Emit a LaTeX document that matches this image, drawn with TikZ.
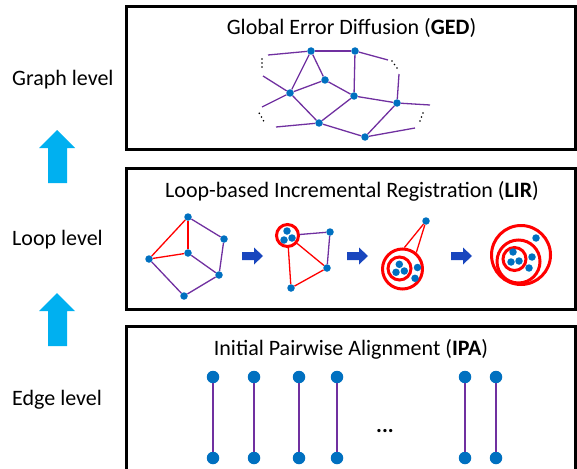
\documentclass[tikz,border=0pt]{standalone}
\usepackage{fontspec}
\setmainfont{Carlito}
\definecolor{nblue}{HTML}{0070C0}
\definecolor{epurple}{HTML}{7030A0}
\definecolor{ered}{HTML}{FF0000}
\definecolor{acyan}{HTML}{00B0F0}
\definecolor{adark}{RGB}{25,70,190}
\begin{document}
\begin{tikzpicture}[x=1pt,y=-1pt,
  dot/.style={circle,fill=nblue,inner sep=0pt,minimum size=7.5pt},
  bigdot/.style={circle,fill=nblue,inner sep=0pt,minimum size=12.5pt},
  tiny/.style={circle,fill=black,inner sep=0pt,minimum size=1.8pt},
  pe/.style={draw=epurple,line width=1.3pt},
  re/.style={draw=ered,line width=1.3pt},
  ring/.style={circle,draw=ered,line width=3pt,inner sep=0pt},
  frame/.style={draw=black,line width=3pt},
  lbl/.style={font=\fontsize{22}{26}\selectfont,inner sep=0pt},
  uparrow/.style={fill=acyan},
  rarrow/.style={fill=adark}]
\useasboundingbox (0,0) rectangle (577,468);

% frames
\draw[frame] (126.5,6.5) rectangle (575,149);
\draw[frame] (126.5,168.5) rectangle (575,309);
\draw[frame] (126.5,326) rectangle (575,478);

% titles
\node[lbl,anchor=base] (tged) at (351.5,35) {Global Error Diffusion (\textbf{GED})};
\node[lbl,anchor=base] (tlir) at (352,197.3) {Loop-based Incremental Registration (\textbf{LIR})};
\node[lbl,anchor=base] (tipa) at (351,355) {Initial Pairwise Alignment (\textbf{IPA})};

% left labels
\node[lbl,anchor=base west] (lg) at (12,86) {Graph level};
\node[lbl,anchor=base west] (ll) at (12,245.7) {Loop level};
\node[lbl,anchor=base west] (le) at (12,405.7) {Edge level};

% cyan up arrows
\fill[uparrow] (57,130) -- (75,148) -- (67,148) -- (67,183) -- (48,183) -- (48,148) -- (39,148) -- cycle;
\fill[uparrow] (57,293) -- (75,311) -- (67,311) -- (67,346) -- (48,346) -- (48,311) -- (39,311) -- cycle;

% ---------- Graph level ----------
\node[dot] (A) at (311,51) {};
\node[dot] (B) at (355,51) {};
\node[dot] (C) at (325,80) {};
\node[dot] (D) at (290,93) {};
\node[dot] (E) at (354,96) {};
\node[dot] (F) at (397,103) {};
\node[dot] (G) at (319,123) {};
\node[dot] (H) at (365,137) {};
\coordinate (a1) at (268,55);
\coordinate (b1) at (388,60);
\coordinate (d1) at (263,76);
\coordinate (d2) at (262,107);
\coordinate (f1) at (399,74);
\coordinate (f2) at (430,105);
\coordinate (g1) at (276,127);
\coordinate (h1) at (415,128);
\draw[pe] (a1) -- (A);
\draw[pe] (A) -- (B);
\draw[pe] (B) -- (b1);
\draw[pe] (A) -- (D);
\draw[pe] (A) -- (C);
\draw[pe] (d1) -- (D);
\draw[pe] (D) -- (C);
\draw[pe] (C) -- (E);
\draw[pe] (B) -- (E);
\draw[pe] (d2) -- (D);
\draw[pe] (D) -- (G);
\draw[pe] (E) -- (G);
\draw[pe] (E) -- (F);
\draw[pe] (F) -- (f2);
\draw[pe] (f1) -- (F);
\draw[pe] (g1) -- (G);
\draw[pe] (G) -- (H);
\draw[pe] (F) -- (H);
\draw[pe] (H) -- (h1);
% ellipsis dots
\node[tiny] (t1) at (262,59) {};
\node[tiny] (t2) at (262,63) {};
\node[tiny] (t3) at (262,67) {};
\node[tiny] (t4) at (392,61) {};
\node[tiny] (t5) at (394.5,64.5) {};
\node[tiny] (t6) at (397,68) {};
\node[tiny] (t7) at (259.3,113.3) {};
\node[tiny] (t8) at (261.4,117) {};
\node[tiny] (t9) at (263.5,120.7) {};
\node[tiny] (t10) at (423,113) {};
\node[tiny] (t11) at (421.5,117) {};
\node[tiny] (t12) at (420,121) {};

% ---------- Loop level ----------
% graph 1
\node[dot] (p1) at (188,217) {};
\node[dot] (p2) at (224,239) {};
\node[dot] (p3) at (188,253) {};
\node[dot] (p4) at (149,259) {};
\node[dot] (p5) at (219,275) {};
\node[dot] (p6) at (184,296) {};
\draw[re] (p4) -- (p1);
\draw[re] (p1) -- (p3);
\draw[re] (p4) -- (p3);
\draw[pe] (p1) -- (p2);
\draw[pe] (p2) -- (p5);
\draw[pe] (p3) -- (p5);
\draw[pe] (p5) -- (p6);
\draw[pe] (p4) -- (p6);

% arrows
\fill[rarrow] (242,252) -- (254,252) -- (254,247.5) -- (263,256) -- (254,264.5) -- (254,260) -- (242,260) -- cycle;
\fill[rarrow] (347,252) -- (359,252) -- (359,247.5) -- (368,256) -- (359,264.5) -- (359,260) -- (347,260) -- cycle;
\fill[rarrow] (451,252) -- (463,252) -- (463,247.5) -- (472,256) -- (463,264.5) -- (463,260) -- (451,260) -- cycle;

% graph 2
\node[ring,minimum size=22pt] (r2) at (287.5,235.5) {};
\node[dot] (q1) at (330,232) {};
\node[dot] (q2) at (327,268) {};
\node[dot] (q3) at (291,288) {};
\draw[pe] (r2) -- (q1);
\draw[pe] (q1) -- (q2);
\draw[re] (r2) -- (q2);
\draw[re] (r2) -- (q3);
\draw[re] (q2) -- (q3);
\node[dot] (r2a) at (287,231) {};
\node[dot] (r2b) at (284,240) {};
\node[dot] (r2c) at (292,238) {};

% graph 3
\node[ring,minimum size=40pt] (r3o) at (402.5,269) {};
\node[ring,minimum size=23pt] (r3i) at (399.5,268.5) {};
\node[dot] (s0) at (426,221) {};
\draw[re] (s0) -- (r3o.85);
\draw[re] (s0) -- (r3o.50);
\node[dot] (s1) at (399.3,264.3) {};
\node[dot] (s2) at (396,272.3) {};
\node[dot] (s3) at (404.3,271) {};
\node[dot] (s4) at (417.5,267.5) {};
\node[dot] (s5) at (415,278.3) {};

% graph 4
\node[ring,minimum size=59pt] (r4o) at (521,255) {};
\node[ring,minimum size=43pt] (r4m) at (518.5,261.5) {};
\node[ring,minimum size=23pt] (r4i) at (514.5,259) {};
\node[dot] (u1) at (513,252) {};
\node[dot] (u2) at (511,262) {};
\node[dot] (u3) at (519,261) {};
\node[dot] (u4) at (532,257) {};
\node[dot] (u5) at (529,268) {};
\node[dot] (u6) at (536,238) {};

% ---------- Edge level ----------
\foreach \i/\x in {1/213,2/254,3/299,4/337,5/465,6/496}{
  \node[bigdot] (top\i) at (\x,377) {};
  \node[bigdot] (bot\i) at (\x,458) {};
  \draw[pe] (top\i) -- (bot\i);
}
\node[lbl,anchor=base] (ell) at (385,432) {\textbf{...}};
\end{tikzpicture}
\end{document}
